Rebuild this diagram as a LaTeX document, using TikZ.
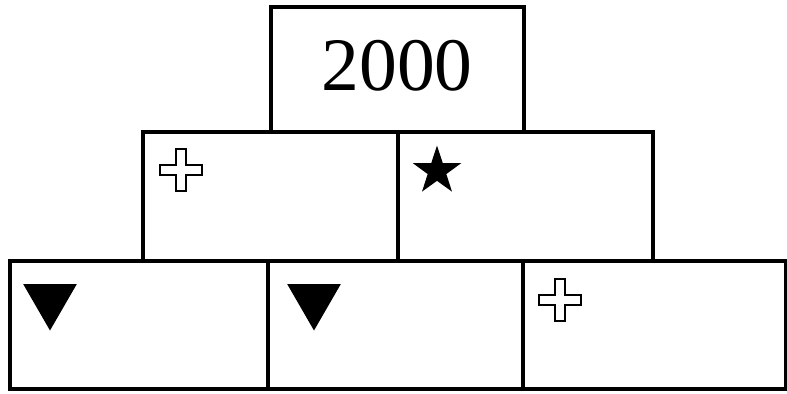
\documentclass[tikz,border=0pt]{standalone}
\usepackage{fontspec}
\setmainfont{Liberation Serif}
\usetikzlibrary{shapes.geometric}
\tikzset{
  brick/.style={draw,line width=2pt,inner sep=0pt,outer sep=0pt},
  year label/.style={font=\fontsize{43}{48}\selectfont,inner sep=0pt,anchor=base},
  star mark/.style={star,star points=5,star point ratio=2.6,fill=black,draw=none,minimum size=1.02cm,inner sep=0pt},
  drop mark/.style={regular polygon,regular polygon sides=3,shape border rotate=180,fill=black,draw=none,minimum size=1.24cm,inner sep=0pt}
}
% hollow plus sign, centred at #1
\newcommand{\PlusMark}[1]{
  \draw[line width=1.1pt,line join=miter] ($(#1)+(-21,-5)$) -- ++(16,0) -- ++(0,-16) -- ++(10,0) -- ++(0,16)
    -- ++(16,0) -- ++(0,10) -- ++(-16,0) -- ++(0,16) -- ++(-10,0) -- ++(0,-16) -- ++(-16,0) -- cycle;}
\usetikzlibrary{calc}

\begin{document}
\begin{tikzpicture}[x=0.02cm,y=-0.02cm]
  \useasboundingbox (0,0) rectangle (787,393);

  % top row
  \node[brick,minimum width=5.06cm,minimum height=2.5cm] (top) at (397.5,69.5) {};
  \node[year label] (year) at (397,90) {2000};

  % middle row
  \node[brick,minimum width=5.1cm,minimum height=2.58cm] (midL) at (270.5,196.5) {};
  \node[brick,minimum width=5.1cm,minimum height=2.58cm] (midR) at (525.5,196.5) {};

  % bottom row
  \node[brick,minimum width=5.16cm,minimum height=2.56cm] (botL) at (139,325) {};
  \node[brick,minimum width=5.1cm,minimum height=2.56cm] (botM) at (395.5,325) {};
  \node[brick,minimum width=5.26cm,minimum height=2.56cm] (botR) at (654.5,325) {};

  % marks
  \coordinate (plus1) at (181,170);
  \coordinate (plus2) at (560,300);
  \PlusMark{plus1}
  \PlusMark{plus2}
  \node[star mark] (star1) at (437,171) {};
  \node[drop mark] (drop1) at (50,299.5) {};
  \node[drop mark] (drop2) at (314,299.5) {};
\end{tikzpicture}
\end{document}
